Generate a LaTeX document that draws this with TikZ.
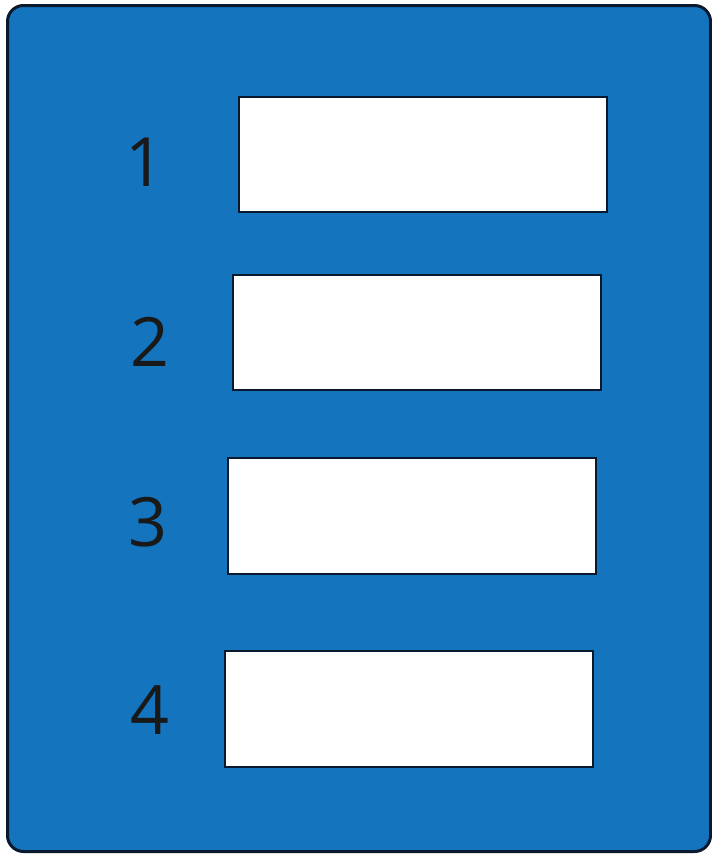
\documentclass[tikz,border=0pt]{standalone}
\usepackage{fontspec}
\setmainfont{Open Sans}
\definecolor{panelblue}{HTML}{1474BE}
\definecolor{edge}{HTML}{0A1A2E}
\begin{document}
\begin{tikzpicture}[x=1pt,y=-1pt,
  slot/.style={draw=edge,line width=2.5pt,fill=white},
  num/.style={font=\fontsize{68}{70}\selectfont,text=black!90,inner sep=0pt,anchor=center}]
\useasboundingbox (0,0) rectangle (712,854);
\draw[draw=edge,line width=3pt,fill=panelblue,rounded corners=16pt] (7.5,5.5) rectangle (710.5,851.5);
\draw[slot] (239,97) rectangle (607,212) coordinate (b1);
\draw[slot] (233,275) rectangle (601,390) coordinate (b2);
\draw[slot] (228,458) rectangle (596,574) coordinate (b3);
\draw[slot] (225,651) rectangle (593,767) coordinate (b4);
\node[num] (n1) at (145,162) {1};
\node[num] (n2) at (150,342) {2};
\node[num] (n3) at (148,522) {3};
\node[num] (n4) at (150,710) {4};
\end{tikzpicture}
\end{document}
